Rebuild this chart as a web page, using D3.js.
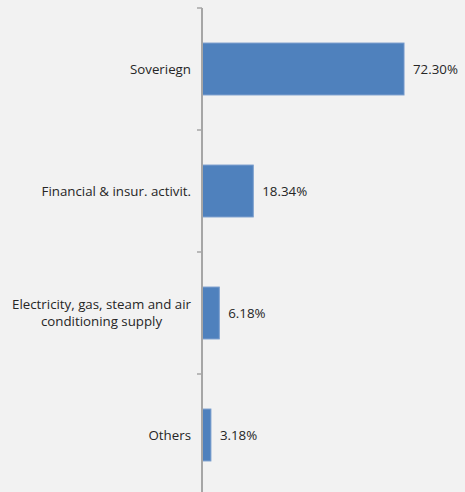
<!DOCTYPE html>
<html>
<head>
<meta charset="utf-8">
<script src="https://cdn.jsdelivr.net/npm/d3@7"></script>
<style>
  body { margin: 0; background: #f2f2f2; }
  svg { display: block; }
  .cat-label, .val-label { font-family: "Open Sans", sans-serif; font-size: 13.3px; fill: #262626; }
</style>
</head>
<body>
<div id="chart"></div>
<script>
// data
const categories = ["Soveriegn", "Financial & insur. activit.", "Electricity, gas, steam and air|conditioning supply", "Others"];
const values = [72.30, 18.34, 6.18, 3.18];

const width = 465, height = 492;
const margin = { top: 8, right: 0, bottom: -4, left: 202 };

const svg = d3.select("#chart").append("svg")
    .attr("width", width)
    .attr("height", height);

// x scale: 72.30% spans ~202px
let x = d3.scaleLinear()
    .domain([0, 100])
    .range([margin.left, margin.left + 279.4]);

let y = d3.scaleBand()
    .domain(categories)
    .range([margin.top, height - margin.bottom])
    .paddingInner(0.575)
    .paddingOuter(0.2875);

// bars
svg.selectAll("rect.bar")
    .data(values)
    .enter()
    .append("rect")
    .attr("class", "bar")
    .attr("x", x(0))
    .attr("y", (d, i) => y(categories[i]))
    .attr("width", d => x(d) - x(0))
    .attr("height", y.bandwidth())
    .attr("fill", "#4f81bd")
    .attr("stroke", "#7399cb")
    .attr("stroke-width", 1);

// value labels
svg.selectAll("text.val-label")
    .data(values)
    .enter()
    .append("text")
    .attr("class", "val-label")
    .attr("x", d => x(d) + 9)
    .attr("y", (d, i) => y(categories[i]) + y.bandwidth() / 2)
    .attr("dy", "0.35em")
    .text(d => d3.format(".2f")(d) + "%");

// category labels, multi-line ones are centred on the widest line
let labelRight = margin.left - 11;
categories.forEach((c, i) => {
    let lines = c.split("|");
    let cy = y(c) + y.bandwidth() / 2;
    let lineH = 17;
    let g = svg.append("g");
    let texts = lines.map((l, j) => g.append("text")
        .attr("class", "cat-label")
        .attr("y", cy + (j - (lines.length - 1) / 2) * lineH)
        .attr("dy", "0.35em")
        .text(l));
    let maxW = d3.max(texts, t => t.node().getComputedTextLength());
    texts.forEach(t => t.attr("x", labelRight - maxW / 2).attr("text-anchor", "middle"));
});

// axis line with ticks at band edges
let tickYs = categories.map(c => y(c) - y.step() * y.paddingInner() / 2);
tickYs[0] = margin.top;

svg.append("line")
    .attr("x1", margin.left).attr("x2", margin.left)
    .attr("y1", margin.top).attr("y2", height)
    .attr("stroke", "#a6a6a6")
    .attr("stroke-width", 2);

svg.selectAll("line.tick")
    .data(tickYs)
    .enter()
    .append("line")
    .attr("class", "tick")
    .attr("x1", margin.left - 5).attr("x2", margin.left)
    .attr("y1", d => d).attr("y2", d => d)
    .attr("stroke", "#a6a6a6")
    .attr("stroke-width", 1.5);
</script>
</body>
</html>
